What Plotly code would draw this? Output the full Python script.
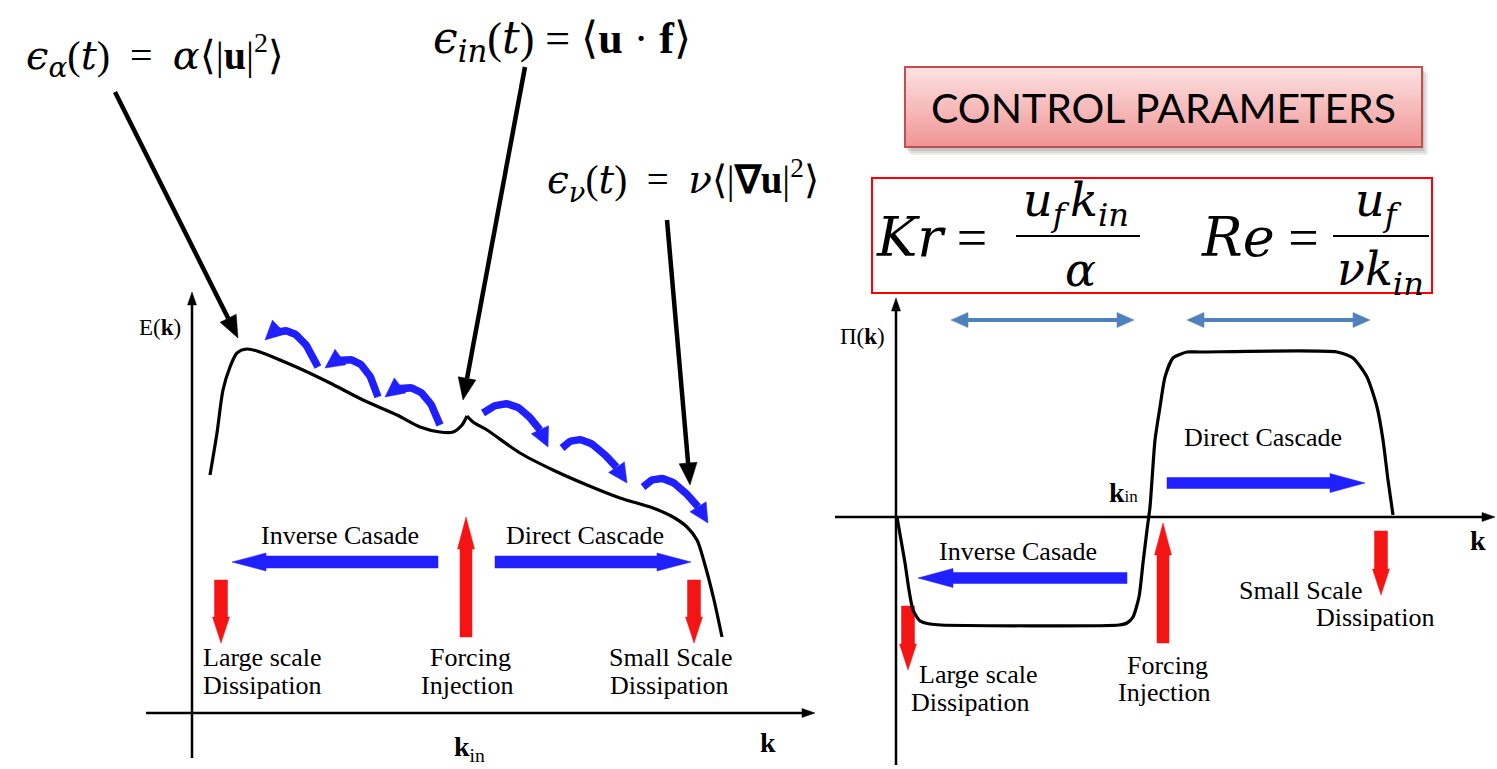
import numpy as np
import plotly.graph_objects as go

W, H = 1497, 769

# ---------------- data ----------------
# Energy spectrum E(k), left panel units (1 unit = 50 px); split at the forcing cusp
ek_rise_k = [0.36, 0.50, 0.62, 0.76, 0.90, 1.10, 1.36, 1.76, 2.22, 2.76, 3.42, 4.10, 4.56, 4.96, 5.22, 5.40, 5.50]
ek_rise_E = [4.76, 5.60, 6.46, 6.92, 7.20, 7.28, 7.22, 7.06, 6.86, 6.60, 6.26, 5.96, 5.72, 5.62, 5.62, 5.76, 5.94]
ek_tail_k = [5.50, 5.62, 5.90, 6.56, 7.22, 7.90, 8.56, 9.22, 9.62, 9.90, 10.10, 10.26, 10.44, 10.60]
ek_tail_E = [5.94, 5.82, 5.66, 5.20, 4.86, 4.56, 4.30, 4.10, 3.92, 3.72, 3.46, 2.96, 2.26, 1.52]

# Energy flux Pi(k), right panel units
pk_k = [0.02, 0.10, 0.18, 0.26, 0.34, 0.48, 0.68, 0.90, 4.46, 4.62, 4.74, 4.86, 4.94, 5.02, 5.08, 5.12,
        5.18, 5.28, 5.38, 5.54, 5.82, 6.08, 8.82, 9.14, 9.42, 9.62, 9.74, 9.84, 9.94]
pk_pi = [0.00, -0.46, -0.92, -1.46, -1.86, -2.08, -2.14, -2.16, -2.16, -2.12, -2.00, -1.60, -0.92, -0.26, 0.20, 0.74,
         1.54, 2.20, 2.80, 3.18, 3.30, 3.30, 3.30, 3.18, 2.80, 2.20, 1.54, 0.74, 0.04]

# curved transfer arrows along E(k): start, apex, tip
hop_start_k = [2.52, 3.72, 4.96, 5.82, 7.40, 9.02]
hop_start_E = [6.92, 6.32, 5.76, 6.00, 5.30, 4.52]
hop_apex_k = [2.02, 3.30, 4.50, 6.50, 7.96, 9.60]
hop_apex_E = [7.60, 7.02, 6.46, 6.12, 5.40, 4.62]
hop_tip_k = [1.46, 2.66, 3.86, 7.12, 8.70, 10.32]
hop_tip_E = [7.46, 6.90, 6.32, 5.32, 4.60, 3.80]


# italic glyphs are taken from DejaVu Serif, upright ones from the Times face
def it(s):
    return f"<span style='font-family:DejaVu Serif'><i>{s}</i></span>"


NB = "\u00a0"
GAP = f"<span style='font-size:22px'>{NB}</span>"
formulas = [
    f"{it('ϵ')}<sub>{it('α')}</sub>({it('t')}){NB*2}={NB*2}{it('α')}⟨|<b>u</b>|<sup>2</sup>⟩",
    f"{it('ϵ')}<sub>{it('in')}</sub>({it('t')}) = ⟨<b>u</b>{NB}·{NB}<b>f</b>⟩",
    f"{it('ϵ')}<sub>{it('ν')}</sub>({it('t')}){NB*2}={NB*2}{it('ν')}⟨|<b>∇u</b>|<sup>2</sup>⟩",
]
box_title = "CONTROL PARAMETERS"
kr_parts = [f"{it('Kr')}{NB}=", f"{it('u')}<sub>{it('f')}</sub>{GAP}{it('k')}<sub>{it('in')}</sub>", it("α")]
re_parts = [f"{it('Re')}{NB}=", f"{it('u')}<sub>{it('f')}</sub>", f"{it('νk')}<sub>{it('in')}</sub>"]
inv_label = "Inverse Casade"
dir_label = "Direct Cascade"
large_lbl = ["Large scale", "Dissipation"]
force_lbl = ["Forcing", "Injection"]
small_lbl = ["Small Scale", "Dissipation"]

# ---------------- styles ----------------
SERIF = "Liberation Serif, Times New Roman, serif"
MATH = "Times New Roman"
BLUE = "#1f1fff"
RED = "#f41414"
STEEL = "#4f81bd"
S = 50.0  # px per panel unit

fig = go.Figure()
L_AX = dict(xaxis="x2", yaxis="y2")
R_AX = dict(xaxis="x3", yaxis="y3")
P_AX = dict(xaxis="x", yaxis="y")


def add_line(xs, ys, color, width, ax, shape="linear", smoothing=1.0):
    fig.add_trace(go.Scatter(x=xs, y=ys, mode="lines", hoverinfo="skip",
                             line=dict(color=color, width=width, shape=shape, smoothing=smoothing),
                             showlegend=False, **ax))


def add_poly(xs, ys, color, ax):
    fig.add_trace(go.Scatter(x=xs, y=ys, mode="lines", fill="toself", fillcolor=color,
                             line=dict(color=color, width=0.5), hoverinfo="skip",
                             showlegend=False, **ax))


def head(tip, direction, length, half):
    tip = np.asarray(tip, float)
    d = np.asarray(direction, float)
    d = d / np.linalg.norm(d)
    n = np.array([-d[1], d[0]])
    base = tip - d * length
    pts = [base + n * half, tip, base - n * half, base + n * half]
    return [p[0] for p in pts], [p[1] for p in pts], base


def line_arrow(p0, p1, color, width, hl, hw, ax):
    xs, ys, base = head(p1, np.subtract(p1, p0), hl, hw)
    add_line([p0[0], base[0]], [p0[1], base[1]], color, width, ax)
    add_poly(xs, ys, color, ax)


def block_arrow(p0, p1, shaft, head_w, head_len, color, ax=P_AX):
    p0 = np.asarray(p0, float)
    p1 = np.asarray(p1, float)
    u = (p1 - p0) / np.linalg.norm(p1 - p0)
    n = np.array([-u[1], u[0]])
    b = p1 - u * head_len
    pts = [p0 + n * shaft / 2, b + n * shaft / 2, b + n * head_w / 2, p1,
           b - n * head_w / 2, b - n * shaft / 2, p0 - n * shaft / 2, p0 + n * shaft / 2]
    add_poly([p[0] for p in pts], [p[1] for p in pts], color, ax)


def text(x, y, s, size, family=SERIF, color="black", xanchor="center"):
    fig.add_annotation(x=x, y=y, xref="x", yref="y", text=s, showarrow=False,
                       font=dict(family=family, size=size, color=color),
                       xanchor=xanchor, yanchor="middle")


# ---------------- left panel: E(k) ----------------
line_arrow((-0.92, 0), (12.46, 0), "black", 2.5, 0.26, 0.09, L_AX)
line_arrow((0, -0.90), (0, 8.42), "black", 2.5, 0.26, 0.09, L_AX)

add_line(ek_rise_k, ek_rise_E, "black", 3.2, L_AX, shape="spline", smoothing=0.8)
add_line(ek_tail_k, ek_tail_E, "black", 3.2, L_AX, shape="spline", smoothing=0.8)

# curved transfer arrows
t = np.linspace(0, 1, 40)
for i in range(len(hop_start_k)):
    p0 = np.array([hop_start_k[i], hop_start_E[i]])
    pa = np.array([hop_apex_k[i], hop_apex_E[i]])
    p2 = np.array([hop_tip_k[i], hop_tip_E[i]])
    c = 2 * pa - (p0 + p2) / 2
    bx = (1 - t) ** 2 * p0[0] + 2 * (1 - t) * t * c[0] + t ** 2 * p2[0]
    by = (1 - t) ** 2 * p0[1] + 2 * (1 - t) * t * c[1] + t ** 2 * p2[1]
    direction = p2 - c
    hx, hy, base = head(p2, direction, 0.38, 0.19)
    keep = t <= 0.85
    add_line(list(bx[keep]) + [base[0]], list(by[keep]) + [base[1]], BLUE, 7.5, L_AX)
    add_poly(hx, hy, BLUE, L_AX)

# ---------------- right panel: Pi(k) ----------------
line_arrow((-1.22, 0), (11.98, 0), "black", 2.5, 0.26, 0.09, R_AX)
line_arrow((0, -4.96), (0, 4.38), "black", 2.5, 0.26, 0.09, R_AX)
add_line(pk_k, pk_pi, "black", 3.2, R_AX, shape="spline", smoothing=0.6)

# ---------------- block arrows (pixel space) ----------------
block_arrow((438, 562), (232, 562), 12, 18, 34, BLUE)
block_arrow((495, 562), (691, 562), 12, 18, 34, BLUE)
block_arrow((1167, 483), (1365, 483), 11, 19, 35, BLUE)
block_arrow((1127, 578), (918, 578), 11, 19, 35, BLUE)

block_arrow((466, 637), (466, 517), 12, 17, 32, RED)
block_arrow((221, 580), (221, 643), 13, 17, 26, RED)
block_arrow((694, 580), (694, 643), 13, 17, 26, RED)
block_arrow((908, 606), (908, 670), 13, 17, 26, RED)
block_arrow((1163, 643), (1163, 523), 12, 17, 32, RED)
block_arrow((1381, 531), (1381, 595), 13, 17, 26, RED)

# range markers under the control parameters
for xa, xb in [(951, 1134), (1187, 1370)]:
    block_arrow((xa + 17, 320), (xa, 320), 0.1, 15, 17, STEEL)
    block_arrow((xb - 17, 320), (xb, 320), 0.1, 15, 17, STEEL)
    add_line([xa + 15, xb - 15], [320, 320], STEEL, 4, P_AX)

# pointer arrows from the dissipation / injection rates
line_arrow((115, 92), (238, 338), "black", 4.5, 22, 9, P_AX)
line_arrow((525, 67), (463, 400), "black", 4.5, 22, 9, P_AX)
line_arrow((667, 220), (690, 485), "black", 4.5, 22, 9, P_AX)

# ---------------- boxes ----------------
shapes = []
for k, a in enumerate([0.10, 0.12, 0.16]):
    o = 6 - 2 * k
    shapes.append(dict(type="rect", xref="x", yref="y", x0=905 + o, x1=1422 + o, y0=67 + o, y1=147 + o + 2,
                       fillcolor=f"rgba(80,80,80,{a})", line=dict(width=0), layer="below"))
top = np.array([253, 226, 226])
bot = np.array([241, 150, 150])
nb = 40
for j in range(nb):
    f = j / (nb - 1)
    col = (top * (1 - f) + bot * f).astype(int)
    shapes.append(dict(type="rect", xref="x", yref="y", x0=905, x1=1422,
                       y0=67 + j * 80 / nb, y1=67 + (j + 1) * 80 / nb + 0.6,
                       fillcolor=f"rgb({col[0]},{col[1]},{col[2]})", line=dict(width=0), layer="below"))
shapes.append(dict(type="rect", xref="x", yref="y", x0=905, x1=1422, y0=67, y1=147,
                   line=dict(color="#c0504d", width=2), fillcolor="rgba(0,0,0,0)"))
shapes.append(dict(type="rect", xref="x", yref="y", x0=872, x1=1432, y0=178, y1=293,
                   line=dict(color="#ff0000", width=2), fillcolor="rgba(0,0,0,0)"))
shapes.append(dict(type="line", xref="x", yref="y", x0=1016, x1=1140, y0=236, y1=236,
                   line=dict(color="black", width=2)))
shapes.append(dict(type="line", xref="x", yref="y", x0=1333, x1=1429, y0=236, y1=236,
                   line=dict(color="black", width=2)))

# ---------------- text ----------------
text(155, 55, formulas[0], 40, family=MATH)
text(562, 40, formulas[1], 44, family=MATH)
text(683, 180, formulas[2], 39, family=MATH)
text(1163, 107, box_title, 41, family="Lato, Open Sans, sans-serif")

text(874, 237, kr_parts[0], 54, family=MATH, xanchor="left")
text(1076, 203, kr_parts[1], 46, family=MATH)
text(1080, 270, kr_parts[2], 46, family=MATH)
text(1199, 237, re_parts[0], 54, family=MATH, xanchor="left")
text(1378, 203, re_parts[1], 46, family=MATH)
text(1380, 272, re_parts[2], 46, family=MATH)

# left panel labels
text(160, 327, "E(<b>k</b>)", 23)
text(340, 535, inv_label, 26)
text(585, 535, dir_label, 26)
text(201, 657, large_lbl[0], 26, xanchor="left")
text(201, 685, large_lbl[1], 26, xanchor="left")
text(470, 657, force_lbl[0], 26)
text(467, 685, force_lbl[1], 26)
text(607, 657, small_lbl[0], 26, xanchor="left")
text(608, 685, small_lbl[1], 26, xanchor="left")
text(768, 742, "<b>k</b>", 28)
text(469, 748, "<b>k</b><sub>in</sub>", 28)

# right panel labels
text(862, 336, "Π(<b>k</b>)", 23)
text(1263, 437, dir_label, 26)
text(1018, 551, inv_label, 26)
text(1107, 492, "<b>k</b><span style='font-size:17px'>in</span>", 28, xanchor="left")
text(917, 674, large_lbl[0], 26, xanchor="left")
text(909, 702, large_lbl[1], 26, xanchor="left")
text(1167, 665, force_lbl[0], 26)
text(1164, 692, force_lbl[1], 26)
text(1237, 590, small_lbl[0], 26, xanchor="left")
text(1314, 617, small_lbl[1], 26, xanchor="left")
text(1478, 540, "<b>k</b>", 28)

hidden = dict(visible=False, fixedrange=True, showgrid=False, zeroline=False)
fig.update_layout(
    width=W, height=H,
    margin=dict(l=0, r=0, t=0, b=0, pad=0),
    paper_bgcolor="white", plot_bgcolor="white",
    showlegend=False,
    shapes=shapes,
    xaxis=dict(range=[0, W], **hidden),
    yaxis=dict(range=[H, 0], **hidden),
    xaxis2=dict(range=[-192 / S, (W - 192) / S], overlaying="x", anchor="y2", **hidden),
    yaxis2=dict(range=[(713 - H) / S, 713 / S], overlaying="y", anchor="x2", **hidden),
    xaxis3=dict(range=[-896 / S, (W - 896) / S], overlaying="x", anchor="y3", **hidden),
    yaxis3=dict(range=[(517 - H) / S, 517 / S], overlaying="y", anchor="x3", **hidden),
)

fig.write_html("out.html", config=dict(displayModeBar=False))
